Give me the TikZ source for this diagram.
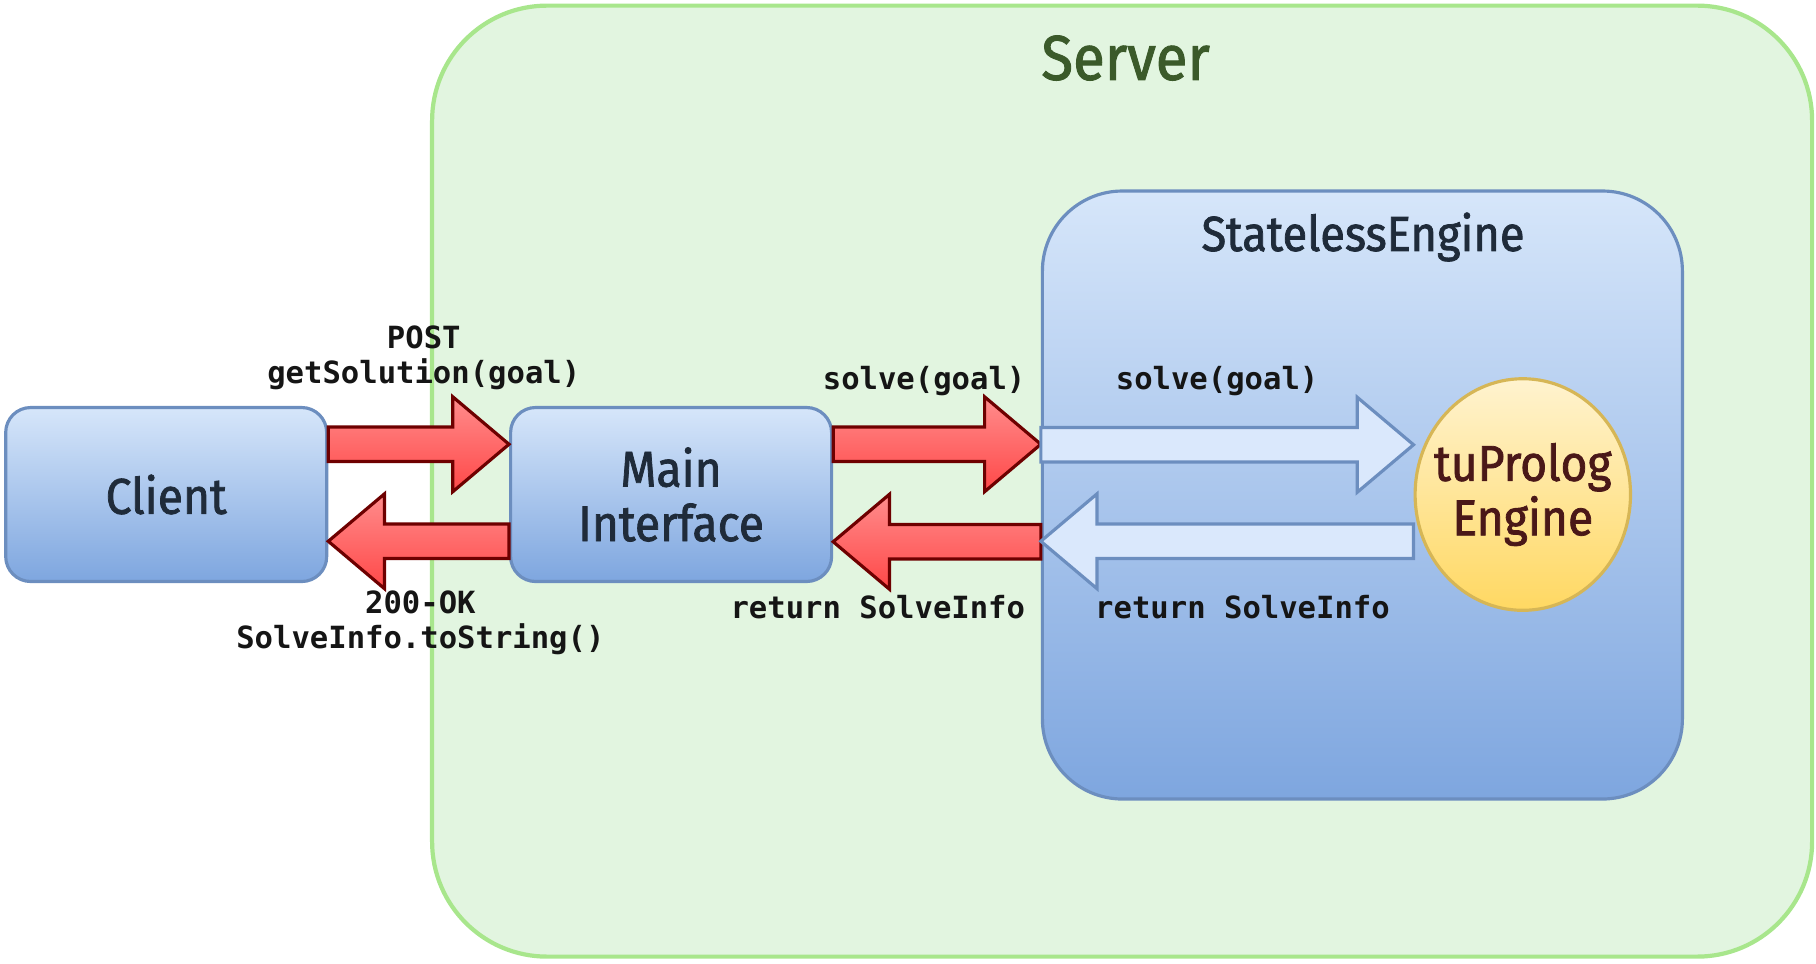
\documentclass[tikz,border=0pt]{standalone}
\usepackage{fontspec}
\setmainfont{Fira Sans}[FakeStretch=0.92,FakeBold=1.5]
\setmonofont{DejaVu Sans Mono}
\usetikzlibrary{positioning,calc,shapes.geometric}

\definecolor{srvfill}{HTML}{E2F5E0}
\definecolor{srvline}{HTML}{A8E68C}
\definecolor{srvtext}{HTML}{3B5A2A}
\definecolor{boxtop}{HTML}{D6E6FA}
\definecolor{boxbot}{HTML}{7EA6DF}
\definecolor{boxline}{HTML}{6C8EBF}
\definecolor{boxtext}{HTML}{1F2B3A}
\definecolor{redtop}{HTML}{FF8C8C}
\definecolor{redbot}{HTML}{FF4848}
\definecolor{redline}{HTML}{6E0000}
\definecolor{lightblue}{HTML}{DAE8FC}
\definecolor{engtop}{HTML}{FFF3CF}
\definecolor{engbot}{HTML}{FFD862}
\definecolor{engline}{HTML}{D6B656}
\definecolor{engtext}{HTML}{4A1818}
\definecolor{calltext}{HTML}{151515}

% block arrow between two points, kept horizontal
\newcommand{\fatarrow}[3]{%
  \draw[#1] let \p1=#2, \p2=#3, \n1={sign(\x2-\x1)*16} in
    (\x1,{\y1+4.9pt}) -- ({\x2-\n1*1pt},{\y1+4.9pt}) -- ({\x2-\n1*1pt},{\y1+13.5pt})
    -- (\x2,\y1) -- ({\x2-\n1*1pt},{\y1-13.5pt}) -- ({\x2-\n1*1pt},{\y1-4.9pt})
    -- (\x1,{\y1-4.9pt}) -- cycle;}

\begin{document}
\begin{tikzpicture}[box/.style={draw=boxline, line width=0.9pt, rounded corners=0.25cm, top color=boxtop, bottom color=boxbot, text=boxtext, align=center, font=\fontsize{14.3}{15.5}\selectfont, minimum width=3.21cm, minimum height=1.74cm, inner sep=2pt},
  call/.style={font=\ttfamily\bfseries\fontsize{8.7}{9.9}\selectfont, text=calltext, align=center, inner sep=0pt},
  redarrow/.style={draw=redline, line width=0.9pt, top color=redtop, bottom color=redbot},
  bluearrow/.style={draw=boxline, line width=0.9pt, fill=lightblue}]

  \useasboundingbox (0,0) rectangle (18.16,-9.63);

  \node (server) at (11.221,-4.811) [draw=srvline, line width=1.2pt, fill=srvfill, rounded corners=1.15cm, minimum width=13.8cm, minimum height=9.51cm] {};
  \node (srvtitle) at (11.256,-0.58) [font=\fontsize{18}{21}\selectfont, text=srvtext] {Server};

  \node (client) at (1.662,-4.945) [box] {Client};
  \node (main) at (6.711,-4.945) [box] {Main\\Interface};
  \node (stateless) at (13.624,-4.95) [box, rounded corners=0.8cm, minimum width=6.4cm, minimum height=6.08cm] {};
  \node (sttitle) at (13.63,-2.37) [text=boxtext, font=\fontsize{14}{16}\selectfont] {StatelessEngine};
  \node (engine) at (15.228,-4.945) [ellipse, draw=engline, line width=0.9pt, top color=engtop, bottom color=engbot, minimum width=2.154cm, minimum height=2.316cm, inner sep=-12pt, text=engtext, align=center, font=\fontsize{14.3}{15.5}\selectfont] {tuProlog\\Engine};

  \fatarrow{redarrow}{([yshift=14.3pt]client.east)}{(main.west)}
  \fatarrow{redarrow}{([yshift=-13.3pt]main.west)}{(client.east)}
  \fatarrow{redarrow}{([yshift=14.3pt]main.east)}{(stateless.west)}
  \fatarrow{redarrow}{([yshift=-13.3pt]stateless.west)}{(main.east)}
  \fatarrow{bluearrow}{([yshift=14.3pt]stateless.west)}{(engine.west)}
  \fatarrow{bluearrow}{([yshift=-13.3pt]engine.west)}{(stateless.west)}

  \node (post) at (4.238,-3.575) [call] {POST\\getSolution(goal)};
  \node (ok) at (4.204,-6.23) [call] {200-OK\\SolveInfo.toString()};
  \node (solvea) at (9.241,-3.81) [call] {solve(goal)};
  \node (returna) at (8.778,-6.075) [call] {return SolveInfo};
  \node (solveb) at (12.171,-3.81) [call] {solve(goal)};
  \node (returnb) at (12.425,-6.075) [call] {return SolveInfo};

\end{tikzpicture}
\end{document}
